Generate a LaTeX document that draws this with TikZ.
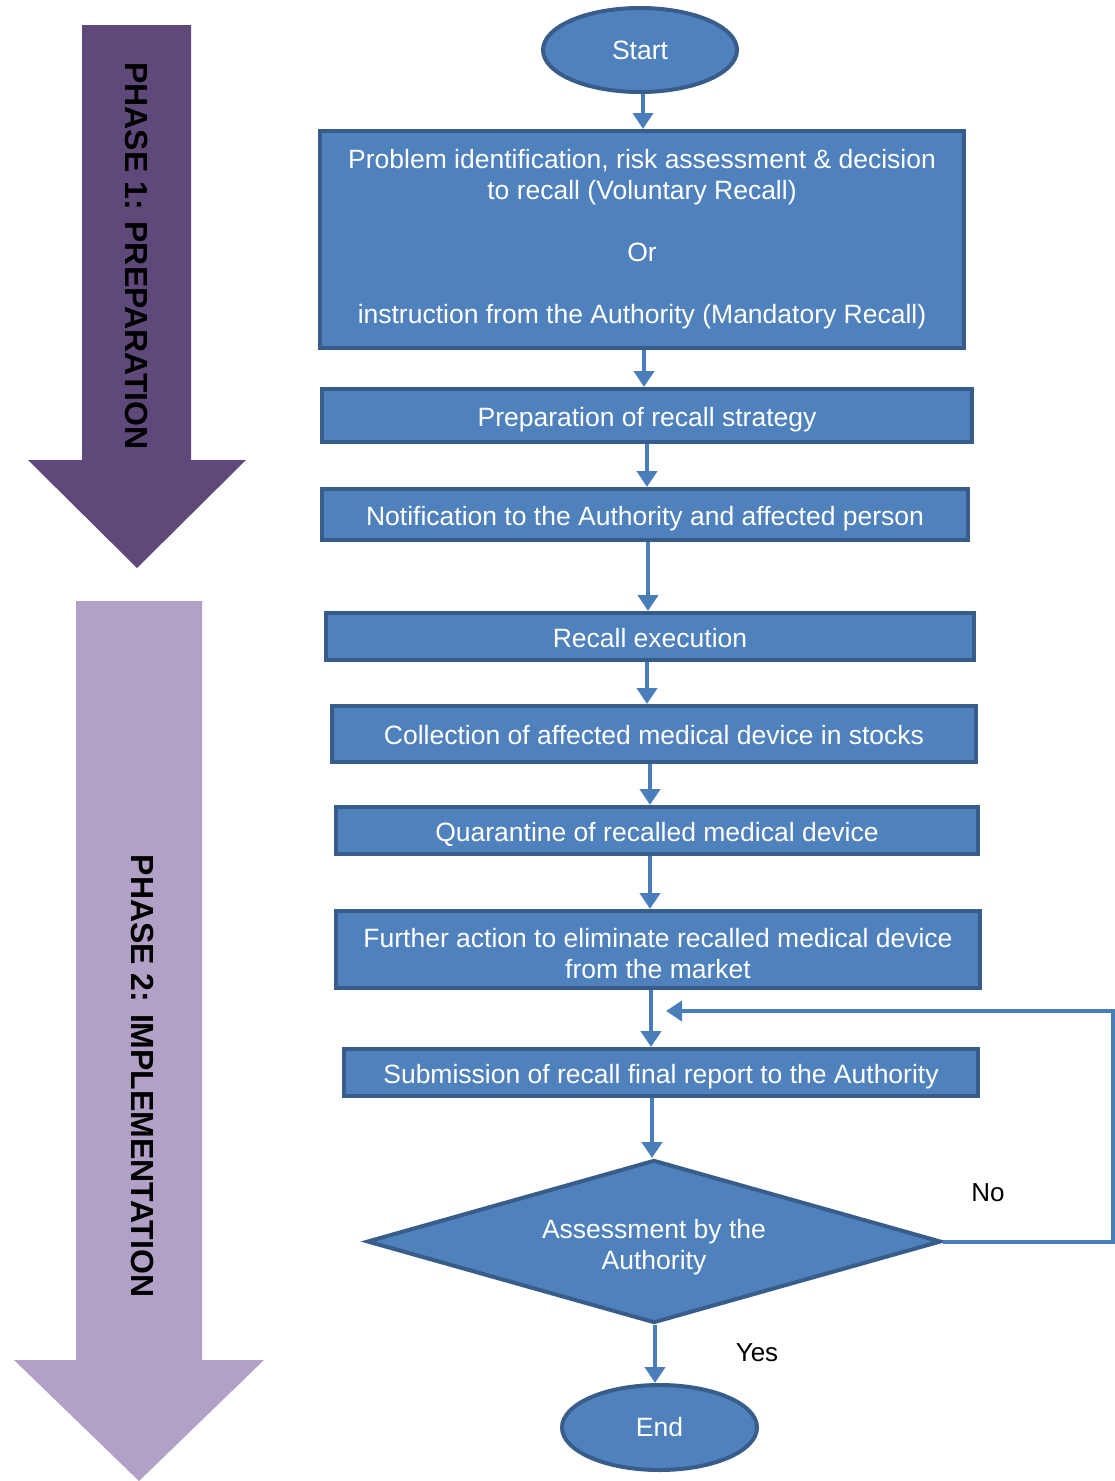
\documentclass[tikz,border=0pt]{standalone}
\usepackage{fontspec}
\setmainfont{Liberation Sans}
\usepackage{tikz}
\usetikzlibrary{shapes.geometric,arrows.meta}

\definecolor{boxfill}{HTML}{4F81BD}
\definecolor{boxline}{HTML}{385D8A}
\definecolor{flowline}{HTML}{4A7EBB}
\definecolor{phaseone}{HTML}{5F497A}
\definecolor{phasetwo}{HTML}{B2A1C7}

\tikzset{
	procbox/.style={draw=boxline, fill=boxfill, line width=4pt, text=white,
		align=center, inner sep=0pt, font=\fontsize{26.5}{31}\selectfont},
	onerow/.style={procbox, text height=27pt, text depth=6pt},
	termnode/.style={procbox, ellipse},
	decnode/.style={procbox, diamond, aspect=3.52},
	flow/.style={draw=flowline, line width=4pt, -{Triangle[width=20pt,length=16pt]}},
	phasetext/.style={rotate=-90, font=\fontsize{32}{36}\selectfont\bfseries},
	answer/.style={font=\fontsize{26}{31}\selectfont}
}

\begin{document}
\begin{tikzpicture}[x=1pt, y=-1pt]
	\useasboundingbox (0,0) rectangle (1115,1481);

	% phase arrows on the left
	\fill[phaseone] (82,25) -- (191,25) -- (191,460) -- (246,460) -- (137,568)
		-- (28,460) -- (82,460) -- cycle;
	\node[phasetext] (ph1) at (137,256) {PHASE 1: PREPARATION};
	\fill[phasetwo] (76,601) -- (202,601) -- (202,1360) -- (264,1360) -- (139,1481)
		-- (14,1360) -- (76,1360) -- cycle;
	\node[phasetext] (ph2) at (143,1076) {PHASE 2: IMPLEMENTATION};

	% flow chart
	\node[termnode, minimum width=194pt, minimum height=84pt] (start) at (640,50) {Start};
	\node[procbox, minimum width=644pt, minimum height=217pt] (b1) at (642,239.5)
		{Problem identification, risk assessment \& decision\\
		to recall (Voluntary Recall)\\[31pt]
		Or\\[31pt]
		instruction from the Authority (Mandatory Recall)};
	\node[onerow, minimum width=650pt, minimum height=53pt] (b2) at (647,415.5)
		{Preparation of recall strategy};
	\node[onerow, minimum width=646pt, minimum height=51pt] (b3) at (645,514.5)
		{Notification to the Authority and affected person};
	\node[onerow, minimum width=648pt, minimum height=47pt] (b4) at (650,636.5)
		{Recall execution};
	\node[onerow, minimum width=644pt, minimum height=56pt] (b5) at (654,734)
		{Collection of affected medical device in stocks};
	\node[onerow, minimum width=642pt, minimum height=47pt] (b6) at (657,830.5)
		{Quarantine of recalled medical device};
	\node[procbox, minimum width=644pt, minimum height=77pt] (b7) at (658,949.5)
		{\rule{0pt}{27pt}Further action to eliminate recalled medical device\\ from the market};
	\node[onerow, minimum width=634pt, minimum height=47pt] (b8) at (661,1072.5)
		{Submission of recall final report to the Authority};
	\node[decnode, minimum width=574pt, minimum height=163pt] (assess) at (654,1241.5)
		{\rule{0pt}{31pt}Assessment by the\\ Authority};
	\node[termnode, minimum width=195pt, minimum height=85pt] (end) at (659.5,1427.5) {End};

	\foreach \a/\b/\d in {start/b1/3, b1/b2/2, b2/b3/0, b3/b4/3, b4/b5/-3,
		b5/b6/-4, b6/b7/-7, b7/b8/-7, b8/assess/-9, assess/end/1} {
		\draw[flow] ([xshift=\d pt]\a.south) -- ([xshift=\d pt]\a.south |- \b.north);
	}

	% back loop when the report is not accepted
	\coordinate (edge) at (1113,1011);
	\coordinate (back) at (666,1011);
	\draw[flow] (assess.east) -- (assess.east -| edge) -- (edge) -- (back);
	\node[answer] (no) at (988,1193) {No};
	\node[answer] (yes) at (757,1353) {Yes};
\end{tikzpicture}
\end{document}
